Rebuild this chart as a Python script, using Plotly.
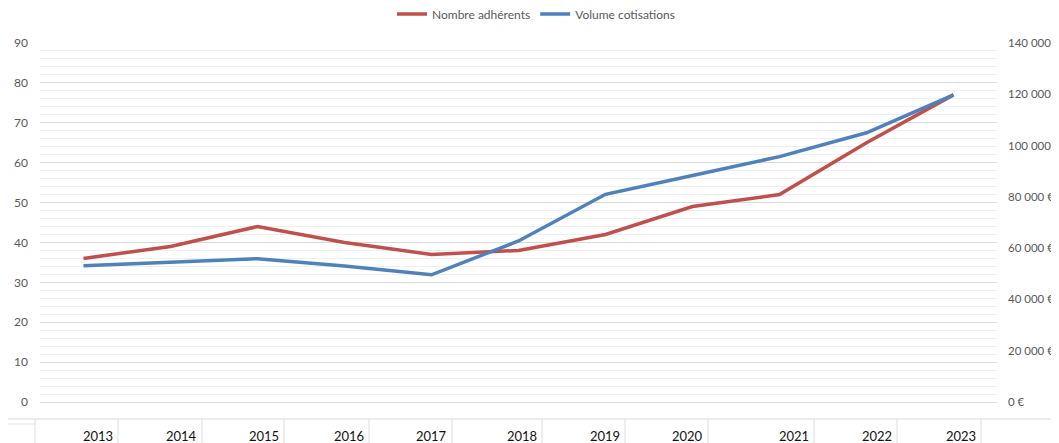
import plotly.graph_objects as go

# ---- data ----
years = ["2013", "2014", "2015", "2016", "2017", "2018", "2019", "2020", "2021", "2022", "2023"]
adherents = [36, 39, 44, 40, 37, 38, 42, 49, 52, 65, 77]
cotisations = [53100, 54500, 55900, 53000, 49600, 62800, 81000, 88300, 95700, 105000, 119800]
left_ticks = [0, 10, 20, 30, 40, 50, 60, 70, 80, 90]
right_ticks = [0, 20000, 40000, 60000, 80000, 100000, 120000, 140000]
right_tick_labels = ["0 €", "20 000 €", "40 000 €", "60 000 €", "80 000 €",
                     "100 000 €", "120 000 €", "140 000 €"]

# ---- layout constants ----
PAGE_OFF = 8                      # default body margin of the html page
W, H = 1059 - PAGE_OFF, 443 - PAGE_OFF
L, R, T, B = 32, 62, 35, 41
PW, PH = W - L - R, H - T - B

def px_x(px):
    """page pixel x -> paper fraction"""
    return (px - PAGE_OFF - L) / PW

def px_y(py):
    """page pixel y -> paper fraction"""
    return (H - B - (py - PAGE_OFF)) / PH

RED = "#C0504D"
BLUE = "#4F81BD"
GRAY_TXT = "#595959"
FONT = "Lato, 'Liberation Sans', Arial, sans-serif"

# spreadsheet cell borders underneath the chart (page pixel columns)
cell_borders = [35, 118, 202, 284, 369, 452, 542, 625, 708, 814, 897, 981]

fig = go.Figure()
fig.add_trace(go.Scatter(
    x=years, y=adherents, name="Nombre adhérents", mode="lines",
    line=dict(color=RED, width=3.5), yaxis="y",
))
fig.add_trace(go.Scatter(
    x=years, y=cotisations, name="Volume cotisations", mode="lines",
    line=dict(color=BLUE, width=3.5), yaxis="y2",
))

shapes = []
shapes.append(dict(type="line", xref="paper", yref="paper",
                   x0=px_x(7), x1=px_x(1070), y0=px_y(419), y1=px_y(419),
                   line=dict(color="#d9d9d9", width=1)))
shapes.append(dict(type="line", xref="paper", yref="paper",
                   x0=px_x(7), x1=px_x(35), y0=px_y(424), y1=px_y(424),
                   line=dict(color="#e6e6e6", width=1)))
for bx in cell_borders:
    shapes.append(dict(type="line", xref="paper", yref="paper",
                       x0=px_x(bx), x1=px_x(bx), y0=px_y(419), y1=px_y(450),
                       line=dict(color="#dcdcdc", width=1)))

annotations = []
for i, yr in enumerate(years):
    annotations.append(dict(
        text=yr, xref="paper", yref="paper",
        x=px_x(cell_borders[i + 1] - 3), xanchor="right",
        y=px_y(435.5), yanchor="middle", showarrow=False,
        font=dict(family=FONT, size=13, color="#111111"),
    ))

fig.update_layout(
    width=W, height=H,
    margin=dict(l=L, r=R, t=T, b=B, pad=0, autoexpand=False),
    paper_bgcolor="white", plot_bgcolor="white",
    font=dict(family=FONT, size=12, color=GRAY_TXT),
    showlegend=True,
    legend=dict(orientation="h", x=px_x(536), xanchor="center",
                y=px_y(14), yanchor="middle",
                font=dict(family=FONT, size=12, color=GRAY_TXT),
                bgcolor="rgba(0,0,0,0)", itemwidth=30),
    xaxis=dict(type="category", range=[-0.5, len(years) - 0.5],
               showgrid=False, showticklabels=False, zeroline=False,
               showline=False, ticks=""),
    yaxis=dict(range=[0, 90], tickvals=left_ticks, showgrid=True,
               gridcolor="#d9d9d9", gridwidth=1,
               minor=dict(dtick=2, showgrid=True, gridcolor="#efefef", gridwidth=1),
               zeroline=True, zerolinecolor="#d9d9d9", zerolinewidth=1,
               showline=False, ticks="", ticklabelstandoff=11,
               tickfont=dict(family=FONT, size=12, color=GRAY_TXT)),
    yaxis2=dict(range=[0, 140000], tickvals=right_ticks, ticktext=right_tick_labels,
                overlaying="y", side="right", showgrid=False, zeroline=False,
                showline=False, ticks="", ticklabelstandoff=10,
                tickfont=dict(family=FONT, size=11.5, color=GRAY_TXT)),
    shapes=shapes,
    annotations=annotations,
)

fig.write_html("out.html")
